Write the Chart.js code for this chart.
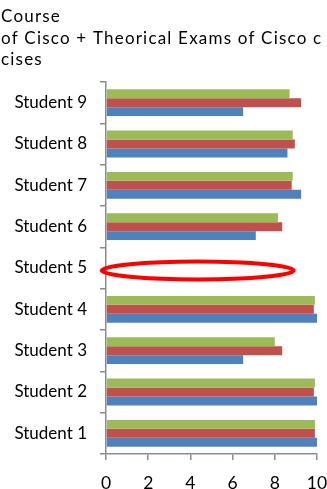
<!DOCTYPE html>
<html>
<head>
<meta charset="utf-8">
<script src="https://cdn.jsdelivr.net/npm/chart.js@4/dist/chart.umd.min.js"></script>
<style>
  html, body { margin: 0; padding: 0; background: #fff; }
  #wrap { width: 327px; height: 489px; position: relative; overflow: hidden; }
</style>
</head>
<body>
<div id="wrap"><canvas id="grafico"></canvas></div>
<script>
// datos
var students = ["Student 1", "Student 2", "Student 3", "Student 4", "Student 5",
                "Student 6", "Student 7", "Student 8", "Student 9"];
var serieAzul  = [10, 10, 6.5, 10, null, 7.1, 9.25, 8.6, 6.5];
var serieRoja  = [9.9, 9.85, 8.35, 9.85, null, 8.35, 8.8, 8.95, 9.25];
var serieVerde = [9.9, 9.9, 8.0, 9.9, null, 8.15, 8.85, 8.85, 8.7];
var xTicks = [0, 2, 4, 6, 8, 10];
var tituloLineas = ["Course", "of Cisco + Theorical Exams of Cisco c", "cises"];

// alumno marcado con el ovalo rojo
var marcado = "Student 5";
var ovaloDesde = -0.2;
var ovaloHasta = 8.9;

var fuente = "Lato, 'Open Sans', sans-serif";
var gris = "#8c8c8c";

// titulo recortado (se ve cortado en la imagen original)
var tituloPlugin = {
    id: 'tituloCortado',
    afterDraw: function(chart) {
        var ctx = chart.ctx;
        ctx.save();
        ctx.letterSpacing = '1.2px';
        ctx.font = "17px " + fuente;
        ctx.fillStyle = '#000';
        ctx.textAlign = 'left';
        ctx.textBaseline = 'alphabetic';
        for (var i = 0; i < tituloLineas.length; i++) {
            ctx.fillText(tituloLineas[i], 1, 22 + i * 21.5);
        }
        ctx.restore();
    }
};

// dibuja el ovalo rojo sobre el alumno sin datos
var ovaloPlugin = {
    id: 'ovalo',
    afterDatasetsDraw: function(chart) {
        var x = chart.scales.x, y = chart.scales.y;
        var idx = students.indexOf(marcado);
        var cy = y.getPixelForValue(idx) + 2.5;
        var x1 = x.getPixelForValue(ovaloDesde);
        var x2 = x.getPixelForValue(ovaloHasta);
        var ctx = chart.ctx;
        ctx.save();
        ctx.beginPath();
        ctx.ellipse((x1 + x2) / 2, cy, (x2 - x1) / 2, 9, 0, 0, Math.PI * 2);
        ctx.lineWidth = 4;
        ctx.strokeStyle = '#ff0000';
        ctx.stroke();
        ctx.restore();
    }
};

const ctx = document.getElementById('grafico').getContext('2d');
ctx.letterSpacing = '0.5px'; // el texto de Excel sale mas espaciado

window.miGrafico = new Chart(ctx, {
    type: 'bar',
    data: {
        labels: students,
        datasets: [
            { label: 'Serie 3', data: serieVerde, backgroundColor: '#9bbb59', borderWidth: 0 },
            { label: 'Serie 2', data: serieRoja, backgroundColor: '#c0504d', borderWidth: 0 },
            { label: 'Serie 1', data: serieAzul, backgroundColor: '#4f81bd', borderWidth: 0 }
        ]
    },
    options: {
        indexAxis: 'y',
        responsive: true,
        maintainAspectRatio: false,
        animation: false,
        devicePixelRatio: 1,
        datasets: {
            bar: { categoryPercentage: 0.65, barPercentage: 1.0 }
        },
        layout: { padding: { left: 0, right: 0, top: 82, bottom: 0 } },
        plugins: {
            legend: { display: false },
            tooltip: { enabled: false },
            title: { display: false }
        },
        scales: {
            x: {
                min: 0,
                max: 10,
                afterBuildTicks: function(scale) {
                    scale.ticks = xTicks.map(function(v) { return { value: v }; });
                },
                afterFit: function(scale) {
                    scale.height = 35;
                    scale.paddingRight = 10;
                },
                border: { display: true, color: gris, width: 1.5 },
                grid: { drawOnChartArea: false, drawTicks: true, tickLength: 6, color: gris, lineWidth: 1.5 },
                ticks: { color: '#000', padding: 13, font: { family: fuente, size: 17.5 } }
            },
            y: {
                reverse: true,
                afterFit: function(scale) { scale.width = 106; },
                border: { display: true, color: gris, width: 1.5 },
                grid: { drawOnChartArea: false, drawTicks: true, tickLength: 6, color: gris, lineWidth: 1.5 },
                ticks: { color: '#000', padding: 13, font: { family: fuente, size: 17 } }
            }
        }
    },
    plugins: [ovaloPlugin, tituloPlugin]
});
</script>
</body>
</html>
